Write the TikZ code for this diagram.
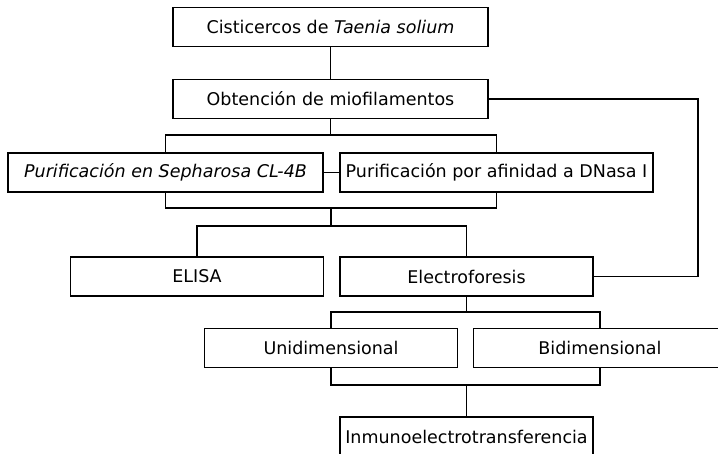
\documentclass[tikz,border=0pt]{standalone}
\usepackage{fontspec}
\setmainfont{DejaVu Sans}

\begin{document}
\begin{tikzpicture}[x=1pt, y=1pt,
                    wide_box/.style={draw=black, line width=1.3pt, minimum width=315pt, minimum height=39pt, inner sep=0pt, font=\fontsize{17.5}{20}\selectfont},
                    narrow_box/.style={wide_box, minimum width=253pt},
                    link/.style={draw=black, line width=1.3pt}
                ]
                    \clip (0,0) rectangle (718,453);
                    \node[wide_box] (cist) at (330.5,426) {Cisticercos de \textit{Taenia solium}};
                    \node[wide_box] (obt) at (330.5,354) {Obtención de miofilamentos};
                    \node[wide_box] (seph) at (165.5,280.5) {\textit{Purificación en Sepharosa CL-4B}};
                    \node[wide_box, minimum width=313pt] (dnasa) at (496.5,280.5) {Purificación por afinidad a DNasa I};
                    \node[narrow_box] (elisa) at (197,176.5) {ELISA};
                    \node[narrow_box] (electro) at (466.5,176.5) {Electroforesis};
                    \node[narrow_box] (uni) at (331,105) {Unidimensional};
                    \node[narrow_box] (bi) at (600,105) {Bidimensional};
                    \node[narrow_box] (inmuno) at (466.5,16.5) {Inmunoelectrotransferencia};

                    \coordinate (split_a) at (330.5,318);
                    \coordinate (join_a) at (331,245);
                    \coordinate (split_b) at (331,227);
                    \coordinate (split_c) at (466.5,141);
                    \coordinate (join_c) at (466.5,68);
                    \coordinate (loop_r) at (698,354);

                    \draw[link] (cist) -- (obt);
                    \draw[link] (obt.south) -- (split_a);
                    \draw[link] (seph.north) |- (split_a) -| (dnasa.north);
                    \draw[link] (seph) -- (dnasa);
                    \draw[link] (seph.south) |- (join_a) -| (dnasa.south);
                    \draw[link] (join_a) -- (split_b);
                    \draw[link] (elisa.north) |- (split_b) -| (electro.north);
                    \draw[link] (electro.south) -- (split_c);
                    \draw[link] (uni.north) |- (split_c) -| (bi.north);
                    \draw[link] (uni.south) |- (join_c) -| (bi.south);
                    \draw[link] (join_c) -- (inmuno.north);
                    \draw[link] (obt.east) -- (loop_r) |- (electro.east);
                \end{tikzpicture}
\end{document}
